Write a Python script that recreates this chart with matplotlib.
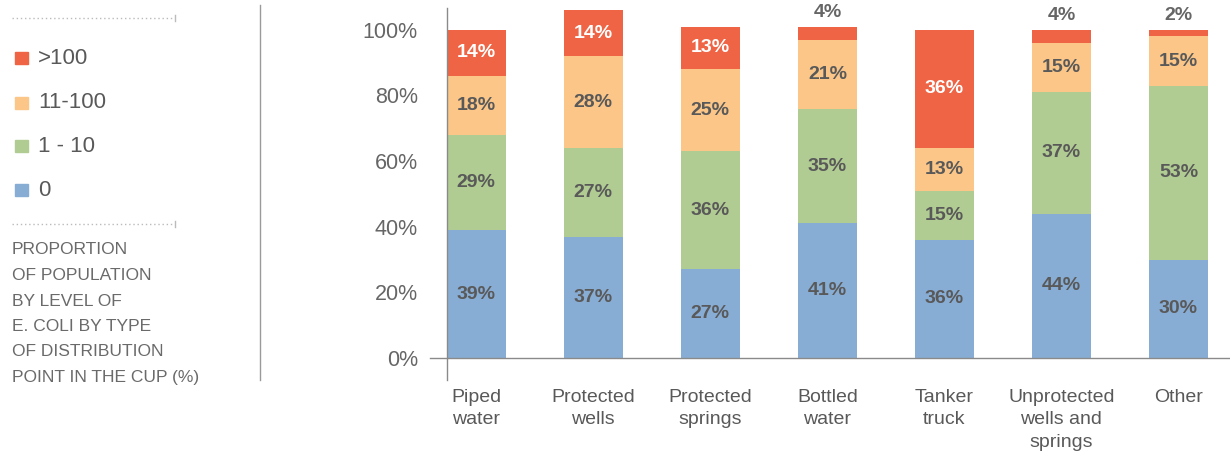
import numpy as np
import matplotlib.pyplot as plt
from matplotlib.lines import Line2D
from matplotlib.patches import Rectangle

plt.rcParams['font.family'] = ['Liberation Sans', 'DejaVu Sans']

categories = ["Piped\nwater", "Protected\nwells", "Protected\nsprings", "Bottled\nwater",
              "Tanker\ntruck", "Unprotected\nwells and\nsprings", "Other"]
level_names = ["0", "1 - 10", "11-100", ">100"]
zero = [39, 37, 27, 41, 36, 44, 30]
one_ten = [29, 27, 36, 35, 15, 37, 53]
eleven_hundred = [18, 28, 25, 21, 13, 15, 15]
over_hundred = [14, 14, 13, 4, 36, 4, 2]

colors = ["#88add5", "#b1cc92", "#fbc688", "#ef6444"]
series = [zero, one_ten, eleven_hundred, over_hundred]

W, H = 1230, 457
fig = plt.figure(figsize=(W / 100, H / 100), dpi=100)


def fx(px):
    return px / W


def fy(py):
    return 1 - py / H


ax = fig.add_axes([fx(447), fy(358), 1 - fx(447), fy(0) - fy(358)])
x = np.arange(len(categories))
bottom = np.zeros(len(categories))
for k, (vals, c) in enumerate(zip(series, colors)):
    vals = np.array(vals, dtype=float)
    ax.bar(x, vals, 0.5, bottom=bottom, color=c, zorder=2)
    for i, v in enumerate(vals):
        if v < 5:
            ax.annotate(f"{v:.0f}%", (x[i], bottom[i] + v), xytext=(0, 4),
                        textcoords="offset points", ha="center", va="bottom",
                        fontsize=14, fontweight="bold", color="#666666")
        else:
            tc = "white" if k == 3 else "#595959"
            ax.text(x[i], bottom[i] + v / 2, f"{v:.0f}%", ha="center", va="center",
                    fontsize=14, fontweight="bold", color=tc)
    bottom += vals

ax.set_xlim(-0.25, 6.44)
ax.set_ylim(0, 109.1)
ax.set_yticks([0, 20, 40, 60, 80, 100])
ax.set_yticklabels([f"{t}%" for t in range(0, 101, 20)])
ax.set_xticks(x)
ax.set_xticklabels(categories, linespacing=1.45)
ax.tick_params(axis="y", length=0, pad=21, labelsize=15.5, labelcolor="#666666")
ax.tick_params(axis="x", length=0, pad=22, labelsize=14, labelcolor="#595959")
for s in ax.spines.values():
    s.set_visible(False)

# axis lines crossing past the origin
fig.add_artist(Line2D([fx(447), fx(447)], [fy(8), fy(380)], color="#8a8a8a", lw=1))
fig.add_artist(Line2D([fx(430), 1], [fy(358), fy(358)], color="#8a8a8a", lw=1))

# left panel: divider, dotted rules, legend and caption
fig.add_artist(Line2D([fx(260), fx(260)], [fy(5), fy(380)], color="#9a9a9a", lw=1))
for yy in (18, 224):
    fig.add_artist(Line2D([fx(12), fx(175)], [fy(yy), fy(yy)], color="#bbbbbb",
                          lw=1, linestyle=(0, (1, 2))))
    fig.add_artist(Line2D([fx(175), fx(175)], [fy(yy - 3), fy(yy + 3)],
                          color="#bbbbbb", lw=1))

legend_y = [190, 146, 103, 58]
for name, c, yy in zip(level_names, colors, legend_y):
    fig.add_artist(Rectangle((fx(15), fy(yy + 6)), fx(13), fy(yy - 6) - fy(yy + 6),
                             color=c, transform=fig.transFigure))
    fig.text(fx(38), fy(yy), name, fontsize=16, color="#595959", va="center")

caption = ["PROPORTION", "OF POPULATION", "BY LEVEL OF", "E. COLI BY TYPE",
           "OF DISTRIBUTION", "POINT IN THE CUP (%)"]
for j, line in enumerate(caption):
    fig.text(fx(12), fy(250 + j * 25.5), line, fontsize=12.5, color="#6a6a6a",
             va="center")

fig.savefig("out.png", dpi=100)
